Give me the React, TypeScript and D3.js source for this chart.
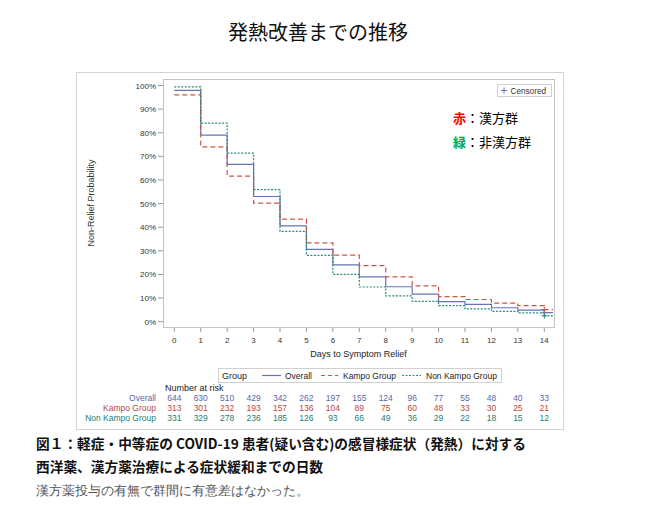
import React from "react";
import * as d3 from "d3";

const days = [0, 1, 2, 3, 4, 5, 6, 7, 8, 9, 10, 11, 12, 13, 14];
const overall = [97.9, 79.0, 66.6, 53.0, 40.6, 30.6, 24.1, 19.0, 14.8, 11.7, 8.5, 7.3, 5.9, 4.9, 3.8];
const kampo = [96.0, 74.0, 61.6, 50.2, 43.4, 33.4, 28.2, 23.7, 19.0, 15.2, 10.6, 9.4, 7.9, 6.8, 5.1];
const nonKampo = [99.4, 84.1, 71.4, 55.9, 38.2, 28.1, 20.0, 14.7, 10.9, 8.6, 6.8, 5.4, 4.4, 3.7, 2.5];
const yTicks = [0, 10, 20, 30, 40, 50, 60, 70, 80, 90, 100];
const riskOverall = [644, 630, 510, 429, 342, 262, 197, 155, 124, 96, 77, 55, 48, 40, 33];
const riskKampo = [313, 301, 232, 193, 157, 136, 104, 89, 75, 60, 48, 33, 30, 25, 21];
const riskNonKampo = [331, 329, 278, 236, 185, 126, 93, 66, 49, 36, 29, 22, 18, 15, 12];

const C_BLUE = "#6a72b6";
const C_RED = "#c8574c";
const C_GREEN = "#2b8a7e";
const T_BLUE = "#5b66a8";
const T_RED = "#b9483d";
const T_GREEN = "#237e72";
const FONT = "'Liberation Sans', Arial, sans-serif";
const JP = "'Noto Sans CJK JP', sans-serif";

export default function App() {
  const plot = { l: 163, r: 554, t: 79, b: 327 };
  const x = d3.scaleLinear().domain([0, 14]).range([174.3, 544.3]);
  const y = d3.scaleLinear().domain([0, 100]).range([321.7, 85.5]);
  const endDay = x.invert(plot.r - 1);

  const line = d3
    .line<[number, number]>()
    .x((d) => x(d[0]))
    .y((d) => y(d[1]))
    .curve(d3.curveStepAfter);

  const pts = (vals: number[]): [number, number][] => {
    const p: [number, number][] = days.map((d, i) => [d, vals[i]]);
    p.push([endDay, vals[vals.length - 1]]);
    return p;
  };

  const series = [
    { vals: overall, color: C_BLUE, dash: "none", name: "Overall", risk: riskOverall, tc: T_BLUE },
    { vals: kampo, color: C_RED, dash: "5,3", name: "Kampo Group", risk: riskKampo, tc: T_RED },
    { vals: nonKampo, color: C_GREEN, dash: "2,1.5", name: "Non Kampo Group", risk: riskNonKampo, tc: T_GREEN },
  ];

  const riskY = [398, 408, 418];

  return (
    <svg
      width={645}
      height={505}
      style={{ position: "absolute", left: 0, top: 0, background: "#fff" }}
    >
      <rect x={0} y={0} width={645} height={505} fill="#fff" />
      <text x={318} y={40} textAnchor="middle" fontFamily={JP} fontSize={20} fontWeight={400} fill="#111">
        発熱改善までの推移
      </text>

      {/* outer frame */}
      <rect x={76.5} y={72.5} width={487} height={357} fill="none" stroke="#d4d4d4" strokeWidth={1} />

      {/* plot frame */}
      <rect x={plot.l + 0.5} y={plot.t + 0.5} width={plot.r - plot.l} height={plot.b - plot.t} fill="none" stroke="#c4c4c4" strokeWidth={1} />

      {/* y axis ticks */}
      {yTicks.map((t) => (
        <g key={"y" + t}>
          <line x1={plot.l - 5} x2={plot.l} y1={y(t)} y2={y(t)} stroke="#999" />
          <text x={plot.l - 7} y={y(t) + 3} textAnchor="end" fontFamily={FONT} fontSize={8} fill="#333">
            {t}%
          </text>
        </g>
      ))}
      <text
        transform={`translate(94,${(plot.t + plot.b) / 2}) rotate(-90)`}
        textAnchor="middle"
        fontFamily={FONT}
        fontSize={9}
        fill="#333"
      >
        Non-Relief Probability
      </text>

      {/* x axis ticks */}
      {days.map((d) => (
        <g key={"x" + d}>
          <line x1={x(d)} x2={x(d)} y1={plot.b + 1} y2={plot.b + 5} stroke="#999" />
          <text x={x(d)} y={plot.b + 16} textAnchor="middle" fontFamily={FONT} fontSize={8} fill="#333">
            {d}
          </text>
        </g>
      ))}
      <text x={(plot.l + plot.r) / 2} y={357} textAnchor="middle" fontFamily={FONT} fontSize={9} fill="#222">
        Days to Symptom Relief
      </text>

      {/* curves */}
      {series.map((s) => (
        <path key={s.name} d={line(pts(s.vals)) || ""} fill="none" stroke={s.color} strokeWidth={1.2} strokeDasharray={s.dash} />
      ))}
      {/* censored markers */}
      {series.map((s) => (
        <g key={"c" + s.name} stroke={s.color} strokeWidth={1}>
          <line x1={x(14) - 3} x2={x(14) + 3} y1={y(s.vals[14])} y2={y(s.vals[14])} />
          <line x1={x(14)} x2={x(14)} y1={y(s.vals[14]) - 3} y2={y(s.vals[14]) + 3} />
        </g>
      ))}

      {/* censored legend */}
      <rect x={497.5} y={84.5} width={54} height={12} fill="#fff" stroke="#d0d0d0" />
      <g stroke={C_BLUE} strokeWidth={1}>
        <line x1={501} x2={507} y1={90.5} y2={90.5} />
        <line x1={504} x2={504} y1={87.5} y2={93.5} />
      </g>
      <text x={510.5} y={93.5} fontFamily={FONT} fontSize={8.2} fill="#333">
        Censored
      </text>

      {/* Japanese annotation */}
      <text x={453} y={123} fontFamily={JP} fontSize={13} fill="#000">
        <tspan fill="#ff0000" fontWeight={700}>赤</tspan>
        <tspan>：漢方群</tspan>
      </text>
      <text x={453} y={147} fontFamily={JP} fontSize={13} fill="#000">
        <tspan fill="#00a651" fontWeight={700}>緑</tspan>
        <tspan>：非漢方群</tspan>
      </text>

      {/* group legend */}
      <rect x={218.5} y={368.5} width={283} height={14} fill="#fff" stroke="#d0d0d0" />
      <text x={222} y={379} fontFamily={FONT} fontSize={9} fill="#222">
        Group
      </text>
      <line x1={262} x2={281} y1={375.5} y2={375.5} stroke={C_BLUE} strokeWidth={1.2} />
      <text x={285} y={379} fontFamily={FONT} fontSize={8.5} fill="#222">
        Overall
      </text>
      <line x1={321} x2={338} y1={375.5} y2={375.5} stroke={C_RED} strokeWidth={1.2} strokeDasharray="4,3" />
      <text x={343} y={379} fontFamily={FONT} fontSize={8.5} fill="#222">
        Kampo Group
      </text>
      <line x1={402} x2={421} y1={375.5} y2={375.5} stroke={C_GREEN} strokeWidth={1.2} strokeDasharray="2,1.5" />
      <text x={426} y={379} fontFamily={FONT} fontSize={8.5} fill="#222">
        Non Kampo Group
      </text>

      {/* number at risk */}
      <text x={165} y={391} fontFamily={FONT} fontSize={9} fill="#222">
        Number at risk
      </text>
      {series.map((s, si) => (
        <g key={"r" + s.name}>
          <text x={156} y={riskY[si] + 3} textAnchor="end" fontFamily={FONT} fontSize={8.5} fill={s.tc}>
            {s.name}
          </text>
          {s.risk.map((v, i) => (
            <text key={i} x={x(days[i])} y={riskY[si] + 3} textAnchor="middle" fontFamily={FONT} fontSize={8.5} fill={s.tc}>
              {v}
            </text>
          ))}
        </g>
      ))}

      {/* caption */}
      <text x={36} y={449} fontFamily={JP} fontSize={13.7} fontWeight={700} fill="#111">
        図１：軽症・中等症の COVID-19 患者(疑い含む)の感冒様症状（発熱）に対する
      </text>
      <text x={36} y={472} fontFamily={JP} fontSize={13.7} fontWeight={700} fill="#111">
        西洋薬、漢方薬治療による症状緩和までの日数
      </text>
      <text x={36} y={495} fontFamily="serif" fontSize={13} fill="#555">
        漢方薬投与の有無で群間に有意差はなかった。
      </text>
    </svg>
  );
}
